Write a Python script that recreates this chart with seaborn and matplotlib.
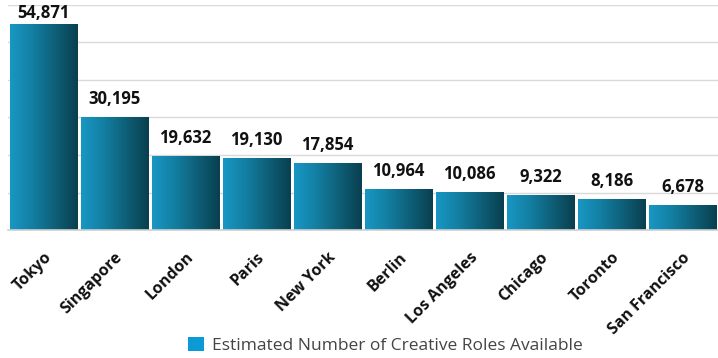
import numpy as np
import matplotlib
matplotlib.use("Agg")
import matplotlib.pyplot as plt
import seaborn as sns
from matplotlib.patches import Patch
from matplotlib.colors import LinearSegmentedColormap

cities = ["Tokyo", "Singapore", "London", "Paris", "New York", "Berlin",
          "Los Angeles", "Chicago", "Toronto", "San Francisco"]
roles = [54871, 30195, 19632, 19130, 17854, 10964, 10086, 9322, 8186, 6678]
series_name = "Estimated Number of Creative Roles Available"

sns.set_theme(style="white")
plt.rcParams['font.family'] = ['Open Sans', 'DejaVu Sans']

fig = plt.figure(figsize=(7.18, 3.58), dpi=100)
ax = fig.add_axes([8/718, 1 - 230/358, 710/718, 225/358])

sns.barplot(x=cities, y=roles, color="#1591bd", width=0.95, ax=ax, saturation=1)

ax.set_yticks(np.arange(0, 60001, 10000))
ax.yaxis.grid(True, color="#d9d9d9", linewidth=1)
ax.set_axisbelow(True)
ax.tick_params(axis='y', left=False, labelleft=False)
ax.tick_params(axis='x', bottom=False, pad=8)
for s in ["top", "right", "left"]:
    ax.spines[s].set_visible(False)
ax.spines["bottom"].set_color("#d0d0d0")
ax.spines["bottom"].set_linewidth(1.2)

cmap = LinearSegmentedColormap.from_list("g", ["#1897c4", "#137fa2", "#0e5f78", "#093f4f"])
grad = np.linspace(0, 1, 256).reshape(1, -1)
for p in ax.patches:
    x0, y0 = p.get_x(), p.get_y()
    w, h = p.get_width(), p.get_height()
    im = ax.imshow(grad, cmap=cmap, aspect='auto', extent=(x0, x0 + w, y0, y0 + h),
                   zorder=p.get_zorder() + 0.1, interpolation='bilinear')
    im.set_clip_path(p)
    p.set_edgecolor("#e6e6e6")
    p.set_linewidth(0.6)

anns = ax.bar_label(ax.containers[0], labels=[f"{v:,}" for v in roles], padding=6.5,
                    fontsize=12, fontweight='bold', color="#111111")
# the tallest label sits closer to its bar so it stays inside the figure
anns[0].xyann = (0, 1.5)
ax.set_xlim(-0.5, len(cities) - 0.5)
ax.set_ylim(0, 60000)

ax.set_xticks(range(len(cities)))
ax.set_xticklabels(cities, rotation=45, ha='right', rotation_mode='anchor',
                   fontsize=11.5, fontweight='bold', color="#111111")

fig.legend(handles=[Patch(facecolor="#0b9ad6", edgecolor="none")], labels=[series_name],
           loc='center', bbox_to_anchor=(0.537, 0.036), frameon=False,
           fontsize=12.5, handlelength=0.9, handleheight=0.9, handletextpad=0.5,
           labelcolor="#444444")

fig.savefig("out.png", dpi=100)
